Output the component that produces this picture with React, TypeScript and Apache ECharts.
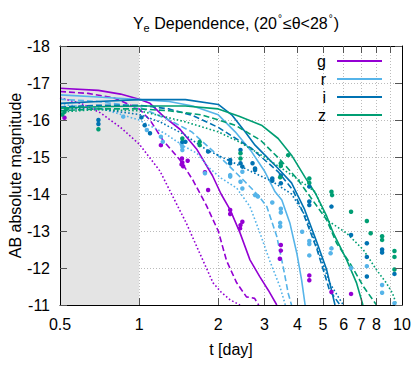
import React, { useEffect, useRef } from "react";
import * as echarts from "echarts";

// ---- data (t in days, AB absolute magnitude) ----
const bands = ["g", "r", "i", "z"];
const bandColors = ["#9400d3", "#56b4e9", "#0072b2", "#009e73"];
const xTickValues = [1, 2, 3, 4, 5, 6, 7, 8, 9];
const xLabelValues = [0.5, 1, 2, 3, 4, 5, 6, 7, 8, 10];
const yMin = -18;
const yMax = -11;

const gSolid = [[0.5,-16.86],[0.7,-16.8],[0.85,-16.7],[1.0,-16.56],[1.1,-16.45],[1.23,-16.12],[1.43,-15.75],[1.66,-15.2],[1.9,-14.5],[2.05,-14.0],[2.22,-13.57],[2.42,-12.95],[2.64,-12.22],[2.88,-11.76],[3.1,-11.4],[3.34,-11.0]];
const gDashed = [[0.5,-16.77],[0.64,-16.72],[0.8,-16.6],[1.0,-16.3],[1.1,-16.0],[1.23,-15.46],[1.43,-14.92],[1.6,-14.38],[1.8,-13.7],[2.0,-13.0],[2.15,-12.2],[2.35,-11.6],[2.56,-11.22],[2.75,-11.18],[2.85,-11.0]];
const gDotted = [[0.5,-16.6],[0.6,-16.45],[0.71,-16.2],[0.85,-15.8],[1.0,-15.35],[1.2,-14.62],[1.35,-13.9],[1.51,-13.22],[1.7,-12.4],[1.91,-11.6],[2.05,-11.35],[2.22,-11.14],[2.42,-11.0]];

const rSolid = [[0.5,-16.68],[0.7,-16.62],[1.0,-16.55],[1.3,-16.5],[1.6,-16.38],[2.0,-16.14],[2.32,-15.68],[2.68,-15.14],[3.01,-14.6],[3.29,-14.06],[3.49,-13.84],[3.75,-13.2],[3.98,-12.4],[4.15,-11.68],[4.28,-11.0]];
const rDashed = [[0.5,-16.56],[0.7,-16.5],[1.0,-16.35],[1.3,-16.0],[1.585,-15.68],[2.12,-14.87],[2.53,-14.33],[2.85,-13.95],[3.06,-13.66],[3.34,-12.85],[3.53,-12.04],[3.69,-11.32],[3.8,-11.0]];
const rDotted = [[0.5,-16.42],[0.71,-16.32],[1.0,-16.0],[1.25,-15.64],[1.49,-15.28],[1.66,-15.1],[1.85,-14.7],[2.05,-14.43],[2.35,-14.16],[2.64,-13.66],[2.88,-12.95],[3.13,-12.22],[3.43,-11.5],[3.6,-11.0]];

const iSolid = [[0.5,-16.45],[0.7,-16.5],[1.0,-16.55],[1.5,-16.55],[2.0,-16.42],[2.25,-16.14],[2.53,-15.68],[2.76,-15.32],[3.01,-15.05],[3.38,-14.69],[3.8,-14.3],[4.25,-13.6],[4.74,-12.7],[5.17,-11.95],[5.56,-11.0]];
const iDashed = [[0.5,-16.35],[0.7,-16.4],[1.0,-16.4],[1.3,-16.3],[1.6,-16.12],[2.0,-15.8],[2.68,-15.23],[3.38,-14.6],[3.85,-14.1],[4.2,-13.5],[4.75,-12.5],[5.3,-11.4],[5.81,-11.0]];
const iDotted = [[0.5,-16.3],[0.7,-16.3],[1.0,-16.15],[1.2,-15.95],[1.49,-15.6],[1.8,-15.2],[2.25,-14.87],[2.68,-14.6],[3.19,-14.35],[3.8,-14.0],[4.3,-13.4],[4.9,-12.3],[5.3,-11.6],[5.98,-11.0]];

const zSolid = [[0.5,-16.32],[0.7,-16.36],[1.0,-16.38],[1.5,-16.38],[2.0,-16.3],[2.4,-16.1],[2.92,-15.86],[3.38,-15.5],[3.8,-15.05],[4.28,-14.45],[4.7,-14.0],[5.17,-13.4],[5.48,-12.94],[6.16,-12.22],[6.72,-11.59],[7.1,-11.0]];
const zDashed = [[0.5,-16.25],[0.7,-16.3],[1.0,-16.3],[1.3,-16.25],[1.73,-16.14],[2.32,-15.86],[2.9,-15.45],[3.47,-14.9],[4.0,-14.4],[4.47,-13.93],[5.17,-13.3],[5.64,-12.67],[6.34,-12.13],[7.13,-11.5],[8.0,-11.0]];
const zDotted = [[0.5,-16.22],[0.7,-16.28],[1.0,-16.25],[1.23,-16.1],[1.5,-15.95],[2.0,-15.68],[2.4,-15.41],[2.92,-15.05],[3.49,-14.69],[4.15,-14.33],[4.67,-14.06],[5.17,-13.3],[6.16,-12.94],[7.13,-12.49],[8.0,-11.95],[8.73,-11.59],[9.2,-11.32],[9.54,-11.0]];

const gObs = [[0.52,-16.06],[1.21,-15.32],[1.455,-14.96],[1.46,-14.85],[1.47,-14.75],[1.45,-14.8],[1.53,-14.9],[1.78,-14.59],[1.83,-14.11],[2.22,-13.57],[2.22,-13.46],[2.47,-13.25],[2.43,-13.16],[2.42,-13.07],[3.46,-12.62],[3.46,-12.47],[3.43,-12.25],[4.44,-11.8],[4.44,-11.67],[5.39,-11.35],[6.4,-11.3]];
const rObs = [[0.87,-16.09],[1.07,-15.73],[1.21,-15.55],[1.23,-15.41],[1.46,-15.28],[1.46,-15.19],[1.45,-15.35],[1.78,-14.56],[2.22,-14.47],[2.22,-14.51],[2.43,-14.33],[2.47,-14.15],[2.47,-14.6],[2.76,-13.97],[2.83,-13.93],[3.21,-13.77],[3.46,-13.6],[3.46,-13.5],[3.44,-13.22],[3.44,-13.12],[4.17,-12.98],[4.44,-12.73],[4.44,-12.65],[4.44,-12.34],[5.39,-12.53],[5.35,-12.4],[6.4,-12.0],[7.35,-12.05],[8.4,-11.54],[8.4,-11.33],[9.36,-11.05]];
const iObs = [[0.7,-16.0],[0.7,-15.89],[1.02,-16.07],[1.1,-15.64],[1.05,-15.86],[1.46,-15.41],[1.5,-15.41],[1.83,-15.15],[2.22,-14.92],[2.22,-14.83],[2.43,-15.19],[2.43,-14.83],[2.47,-14.74],[2.7,-14.83],[2.76,-14.69],[2.76,-14.65],[3.21,-14.42],[3.21,-14.36],[3.46,-14.5],[3.46,-14.29],[4.44,-14.2],[4.44,-13.8],[4.44,-13.7],[5.39,-13.66],[6.4,-12.89],[7.35,-12.67],[7.35,-12.3],[7.35,-11.77],[8.4,-12.5],[8.4,-12.42],[9.36,-11.84]];
const zObs = [[0.52,-16.22],[0.53,-16.3],[0.51,-16.15],[0.7,-15.75],[1.46,-15.5],[1.7,-15.41],[1.7,-15.32],[2.43,-15.1],[2.43,-14.96],[3.46,-14.83],[3.46,-14.76],[3.44,-14.45],[3.69,-15.05],[4.44,-14.42],[4.44,-14.3],[5.39,-14.06],[5.42,-13.97],[6.4,-13.52],[7.35,-13.27],[7.6,-12.94],[8.4,-12.86],[8.4,-12.76],[9.36,-12.46],[9.36,-12.3],[9.36,-11.96]];

const bandLines = [
  [gSolid, gDashed, gDotted],
  [rSolid, rDashed, rDotted],
  [iSolid, iDashed, iDotted],
  [zSolid, zDashed, zDotted],
];
const bandObs = [gObs, rObs, iObs, zObs];
const lineStyles = ["solid", "dashed", "dotted"];
const shadeRange = [0.5, 1];

const FONT = "Liberation Sans, Arial, Helvetica, sans-serif";

const toLog = (pts: number[][]) => pts.map(([t, m]) => [Math.log10(t), m]);

export default function App() {
  const ref = useRef<HTMLDivElement>(null);
  useEffect(() => {
    if (!ref.current) return;
    const chart = echarts.init(ref.current, undefined, { renderer: "svg" });
    const xMin = Math.log10(xLabelValues[0]);
    const xMax = Math.log10(xLabelValues[xLabelValues.length - 1]);
    const tickLog = xTickValues.map((v) => Math.log10(v));
    const labelLog = xLabelValues.map((v) => Math.log10(v));

    const series: any[] = [];
    bands.forEach((b, bi) => {
      bandLines[bi].forEach((pts, si) => {
        const st = lineStyles[si];
        const s: any = {
          name: si === 0 ? b : `${b}-${st}`,
          type: "line",
          data: toLog(pts),
          showSymbol: false,
          symbol: "none",
          color: bandColors[bi],
          lineStyle: {
            width: 1.6,
            color: bandColors[bi],
            type: st === "solid" ? "solid" : st === "dashed" ? [6, 3] : [1.6, 2.2],
          },
          z: 2,
        };
        if (bi === 0 && si === 0) {
          s.markArea = {
            silent: true,
            itemStyle: { color: "#e4e4e4", opacity: 1 },
            data: [[
              { xAxis: Math.log10(shadeRange[0]), yAxis: yMin },
              { xAxis: Math.log10(shadeRange[1]), yAxis: yMax },
            ]],
          };
        }
        series.push(s);
      });
    });
    bands.forEach((b, bi) => {
      series.push({
        name: `${b}-obs`,
        type: "scatter",
        data: toLog(bandObs[bi]),
        symbol: "circle",
        symbolSize: 4.5,
        itemStyle: { color: bandColors[bi], opacity: 1 },
        z: 3,
      });
    });

    const frameX = (pos: string) => ({
      type: "value",
      position: pos,
      min: xMin,
      max: xMax,
      z: 10,
      axisLine: { show: true, onZero: false, lineStyle: { color: "#000", width: 1 } },
      axisTick: { show: true, inside: true, length: 7, customValues: tickLog, lineStyle: { color: "#555" } },
      axisLabel: { show: false },
      splitLine: { show: false },
    });
    const frameY = (pos: string) => ({
      type: "value",
      position: pos,
      inverse: true,
      min: yMin,
      max: yMax,
      interval: 1,
      z: 10,
      axisLine: { show: true, onZero: false, lineStyle: { color: "#000", width: 1 } },
      axisTick: { show: true, inside: true, length: 7, lineStyle: { color: "#555" } },
      axisLabel: { show: false },
      splitLine: { show: false },
    });

    chart.setOption({
      animation: false,
      backgroundColor: "#fff",
      textStyle: { fontFamily: FONT },
      title: {
        text: "{n|Y}{sub|e}{n| Dependence, (20}{sup|°}{n|≤θ<28}{sup|°}{n|)}",
        left: 231,
        top: 8,
        textAlign: "center",
        textStyle: {
          fontFamily: FONT,
          fontWeight: "normal",
          rich: {
            n: { fontSize: 16, color: "#000", fontFamily: FONT, fontWeight: "normal" },
            sub: { fontSize: 11, color: "#000", fontFamily: FONT, fontWeight: "normal", padding: [9, 0, 0, 0] },
            sup: { fontSize: 10, color: "#000", fontFamily: FONT, fontWeight: "normal", padding: [0, 1, 9, 1] },
          },
        },
      },
      legend: {
        data: bands,
        orient: "vertical",
        align: "right",
        right: 29,
        top: 48,
        icon: "rect",
        itemWidth: 45,
        itemHeight: 2,
        itemGap: 2,
        selectedMode: false,
        textStyle: { fontSize: 16, color: "#000", fontFamily: FONT, lineHeight: 16, padding: [0, 6, 0, 0] },
      },
      grid: { left: 60, right: 14, top: 46, bottom: 60, containLabel: false, outerBoundsMode: "none" },
      xAxis: [
        {
          type: "value",
          position: "bottom",
          min: xMin,
          max: xMax,
          z: 0,
          name: "t [day]",
          nameLocation: "middle",
          nameGap: 36,
          nameTextStyle: { fontSize: 16, color: "#000", fontFamily: FONT },
          axisLine: { show: false, onZero: false },
          axisTick: { show: false, customValues: tickLog },
          axisLabel: {
            show: true,
            customValues: labelLog,
            fontSize: 16,
            color: "#000",
            margin: 11,
            fontFamily: FONT,
            formatter: (v: number) => String(Math.round(Math.pow(10, v) * 10) / 10),
          },
          splitLine: { show: true, lineStyle: { color: "#bbbbbb", width: 1, type: [1, 2] } },
        },
        frameX("bottom"),
        frameX("top"),
      ],
      yAxis: [
        {
          type: "value",
          position: "left",
          inverse: true,
          min: yMin,
          max: yMax,
          interval: 1,
          z: 0,
          name: "AB absolute magnitude",
          nameLocation: "middle",
          nameGap: 37,
          nameMoveOverlap: false,
          nameTextStyle: { fontSize: 16, color: "#000", fontFamily: FONT },
          axisLine: { show: false, onZero: false },
          axisTick: { show: false },
          axisLabel: { fontSize: 16, color: "#000", margin: 10, fontFamily: FONT },
          splitLine: { show: true, lineStyle: { color: "#bbbbbb", width: 1, type: [1, 2] } },
        },
        frameY("left"),
        frameY("right"),
      ],
      series,
    });
    return () => chart.dispose();
  }, []);
  return (
    <div
      ref={ref}
      style={{ position: "fixed", left: 0, top: 0, width: 416, height: 365, background: "#fff" }}
    />
  );
}
